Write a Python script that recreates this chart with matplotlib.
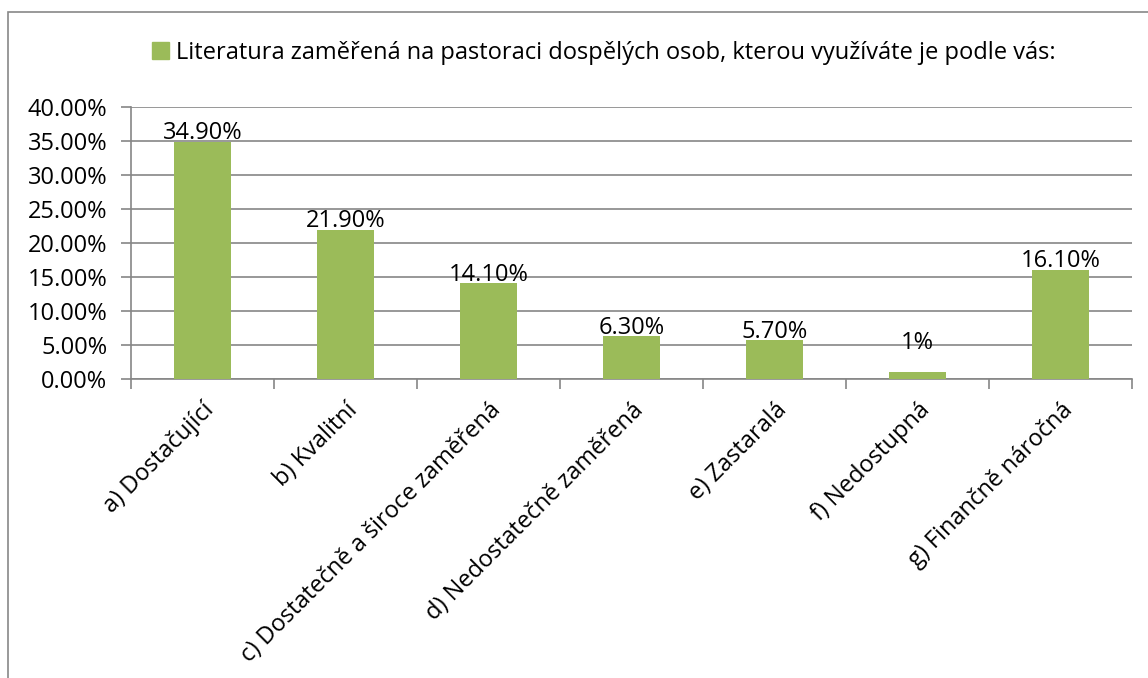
import matplotlib
matplotlib.use("Agg")
import matplotlib.pyplot as plt
import matplotlib.patches as mpatches
from matplotlib.ticker import FuncFormatter, MultipleLocator

plt.rcParams["font.family"] = ["Open Sans", "DejaVu Sans"]

categories = ["a) Dostačující", "b) Kvalitní", "c) Dostatečně a široce zaměřená",
              "d) Nedostatečně zaměřená", "e) Zastaralá", "f) Nedostupná",
              "g) Finančně náročná"]
values = [34.9, 21.9, 14.1, 6.3, 5.7, 1.0, 16.1]
value_labels = ["34.90%", "21.90%", "14.10%", "6.30%", "5.70%", "1%", "16.10%"]
series_name = "Literatura zaměřená na pastoraci dospělých osob, kterou využíváte je podle vás:"

BAR = "#9BBB59"
GRID = "#868686"
FS = 17

fig = plt.figure(figsize=(11.48, 6.78), dpi=100)
fig.patch.set_facecolor("white")
# outer chart border
fig.add_artist(mpatches.Rectangle((8 / 1148, -0.01), 1.0, 1 - 12 / 678 + 0.01,
                                  transform=fig.transFigure, fill=False,
                                  edgecolor="#888888", linewidth=1.2))

ax = fig.add_axes([131 / 1148, 1 - 379 / 678, 1001 / 1148, 272 / 678])
x = range(len(categories))
ax.bar(x, values, width=0.4, color=BAR, zorder=3)
for xi, v, lab in zip(x, values, value_labels):
    # Excel lifted the tiny bar's label a bit above the bar
    lift = 2.5 if v < 2 else -0.5
    ax.text(xi, v + lift, lab, ha="center", va="bottom", fontsize=FS, zorder=4)

ax.set_xlim(-0.5, len(categories) - 0.5)
ax.set_ylim(0, 40)
ax.yaxis.set_major_locator(MultipleLocator(5))
ax.yaxis.set_major_formatter(FuncFormatter(lambda v, p: f"{v:.2f}%"))
ax.grid(axis="y", color=GRID, linewidth=1.2, zorder=0)

ax.set_xticks([i - 0.5 for i in range(len(categories) + 1)], minor=False)
ax.set_xticklabels([])
ax.set_xticks(list(x), minor=True)
ax.set_xticklabels(categories, minor=True, rotation=45, ha="right",
                   rotation_mode="anchor", fontsize=FS)
ax.tick_params(axis="x", which="minor", length=0, pad=14)
ax.tick_params(axis="x", which="major", length=7, color=GRID, width=1.2)
ax.tick_params(axis="y", length=7, color=GRID, width=1.2, labelsize=FS, pad=10)

for s in ["top", "right"]:
    ax.spines[s].set_visible(False)
for s in ["left", "bottom"]:
    ax.spines[s].set_color(GRID)
    ax.spines[s].set_linewidth(1.2)

handle = mpatches.Patch(color=BAR, label=series_name)
fig.legend(handles=[handle], loc="center", bbox_to_anchor=(604 / 1148, 1 - 53 / 678),
           frameon=False, fontsize=FS, handlelength=0.7, handleheight=0.7,
           handletextpad=0.3)

fig.savefig("out.png", dpi=100, facecolor="white")
